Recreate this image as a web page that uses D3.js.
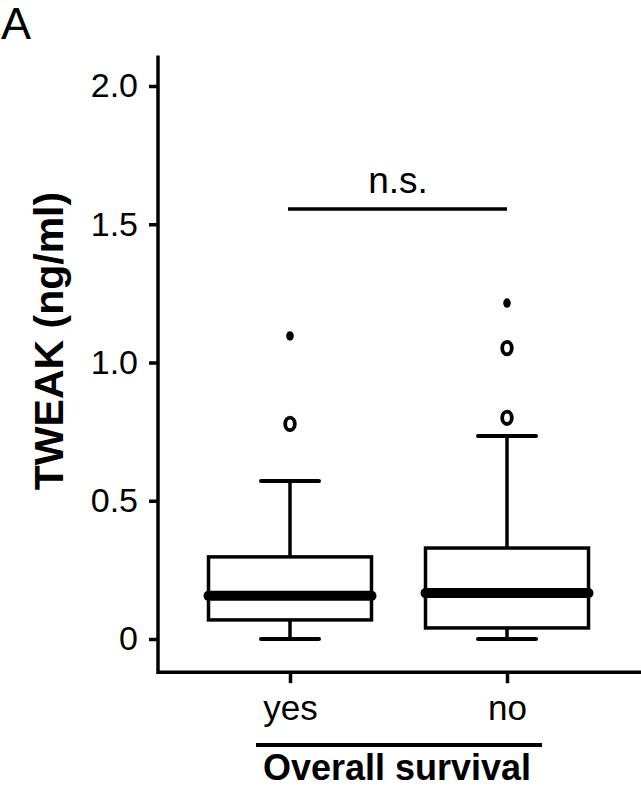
<!DOCTYPE html>
<html>
<head>
<meta charset="utf-8">
<script src="https://cdn.jsdelivr.net/npm/d3@7"></script>
<style>
  body { margin: 0; background: #fff; }
  svg { display: block; font-family: "Liberation Sans", Arial, sans-serif; }
</style>
</head>
<body>
<div id="app"></div>
<script>
(function (d3) {

  'use strict'

  // groups on the x axis
  const groups = ['yes', 'no']
  // box stats per group: [low whisker, q1, median, q3, high whisker]
  const boxStats = [
    [0, 0.069, 0.156, 0.297, 0.571],
    [0, 0.040, 0.166, 0.329, 0.734]
  ]
  // outliers (o) and extremes (*) per group
  const outliers = [[0.778], [0.80, 1.052]]
  const extremes = [[1.096], [1.215]]
  const yTicks = [0, 0.5, 1.0, 1.5, 2.0]
  const sigLevel = 1.555

  const w = 641
  const h = 788

  const svg = d3.select('#app')
    .append('svg')
    .attr('width', w)
    .attr('height', h)

  const xScale = d3.scalePoint()
    .domain(groups)
    .range([290, 507])

  const yScale = d3.scaleLinear()
    .domain([0, 2])
    .range([639, 86])

  const axisX = 158
  const axisY = yScale(-0.12)

  // panel letter
  svg.append('text')
    .attr('x', 1)
    .attr('y', 39)
    .style('font-size', '45px')
    .text('A')

  // y axis
  const yAxis = d3.axisLeft(yScale)
    .tickValues(yTicks)
    .tickSize(9)
    .tickPadding(11)
    .tickFormat(d => d === 0 ? '0' : d3.format('.1f')(d))

  const gy = svg.append('g')
    .attr('transform', 'translate(' + axisX + ',0)')
    .call(yAxis)
  gy.select('.domain').remove()
  gy.selectAll('line').attr('stroke', '#000').attr('stroke-width', 3.5)
  gy.selectAll('text')
    .style('font-size', '34px')
    .style('font-family', '"Liberation Sans", Arial, sans-serif')
    .attr('fill', '#000')

  svg.append('line')
    .attr('x1', axisX).attr('x2', axisX)
    .attr('y1', yScale(2.11)).attr('y2', axisY + 1.75)
    .attr('stroke', '#000').attr('stroke-width', 3.5)

  // x axis
  const xAxis = d3.axisBottom(xScale)
    .tickSize(11)
    .tickPadding(12)

  const gx = svg.append('g')
    .attr('transform', 'translate(0,' + axisY + ')')
    .call(xAxis)
  gx.select('.domain').remove()
  gx.selectAll('line').attr('stroke', '#000').attr('stroke-width', 3.5)
  gx.selectAll('text')
    .style('font-size', '35px')
    .style('font-family', '"Liberation Sans", Arial, sans-serif')
    .attr('fill', '#000')

  svg.append('line')
    .attr('x1', axisX).attr('x2', w)
    .attr('y1', axisY).attr('y2', axisY)
    .attr('stroke', '#000').attr('stroke-width', 3.5)

  // y label
  svg.append('text')
    .attr('transform', 'translate(63,341) rotate(-90)')
    .attr('text-anchor', 'middle')
    .style('font-size', '41px')
    .style('font-weight', 'bold')
    .text('TWEAK (ng/ml)')

  // x group bracket + title
  svg.append('line')
    .attr('x1', 256).attr('x2', 542)
    .attr('y1', 745).attr('y2', 745)
    .attr('stroke', '#000').attr('stroke-width', 4)

  svg.append('text')
    .attr('x', 397)
    .attr('y', 780)
    .attr('text-anchor', 'middle')
    .style('font-size', '36px')
    .style('font-weight', 'bold')
    .text('Overall survival')

  // boxes
  const boxHalf = 81.5
  const capHalf = 29

  const boxes = svg.selectAll('g.box')
    .data(groups)
    .enter()
    .append('g')
    .attr('class', 'box')

  boxes.each(function (g, i) {
    const s = boxStats[i]
    const cx = xScale(g)
    const sel = d3.select(this)

    // whiskers
    sel.append('line')
      .attr('x1', cx).attr('x2', cx)
      .attr('y1', yScale(s[4])).attr('y2', yScale(s[3]))
      .attr('stroke', '#000').attr('stroke-width', 3.5)
    sel.append('line')
      .attr('x1', cx).attr('x2', cx)
      .attr('y1', yScale(s[1])).attr('y2', yScale(s[0]))
      .attr('stroke', '#000').attr('stroke-width', 3.5)
    // caps
    ;[s[0], s[4]].forEach(function (v) {
      sel.append('line')
        .attr('x1', cx - capHalf).attr('x2', cx + capHalf)
        .attr('y1', yScale(v)).attr('y2', yScale(v))
        .attr('stroke', '#000').attr('stroke-width', 4)
        .attr('stroke-linecap', 'round')
    })
    // box
    sel.append('rect')
      .attr('x', cx - boxHalf)
      .attr('y', yScale(s[3]))
      .attr('width', boxHalf * 2)
      .attr('height', yScale(s[1]) - yScale(s[3]))
      .attr('fill', '#fff')
      .attr('stroke', '#000').attr('stroke-width', 3.5)
    // median
    sel.append('line')
      .attr('x1', cx - boxHalf).attr('x2', cx + boxHalf)
      .attr('y1', yScale(s[2])).attr('y2', yScale(s[2]))
      .attr('stroke', '#000').attr('stroke-width', 10)
      .attr('stroke-linecap', 'round')

    // outliers
    outliers[i].forEach(function (v) {
      sel.append('ellipse')
        .attr('cx', cx).attr('cy', yScale(v))
        .attr('rx', 4.8).attr('ry', 6.2)
        .attr('fill', 'none')
        .attr('stroke', '#000').attr('stroke-width', 3.8)
    })
    extremes[i].forEach(function (v) {
      sel.append('ellipse')
        .attr('cx', cx).attr('cy', yScale(v))
        .attr('rx', 3.8).attr('ry', 4.8)
        .attr('fill', '#000')
    })
  })

  // significance bar
  svg.append('line')
    .attr('x1', xScale('yes') - 2).attr('x2', xScale('no'))
    .attr('y1', yScale(sigLevel)).attr('y2', yScale(sigLevel))
    .attr('stroke', '#000').attr('stroke-width', 3.5)

  svg.append('text')
    .attr('x', 398)
    .attr('y', 193)
    .attr('text-anchor', 'middle')
    .style('font-size', '37px')
    .text('n.s.')

}(d3))
</script>
</body>
</html>
